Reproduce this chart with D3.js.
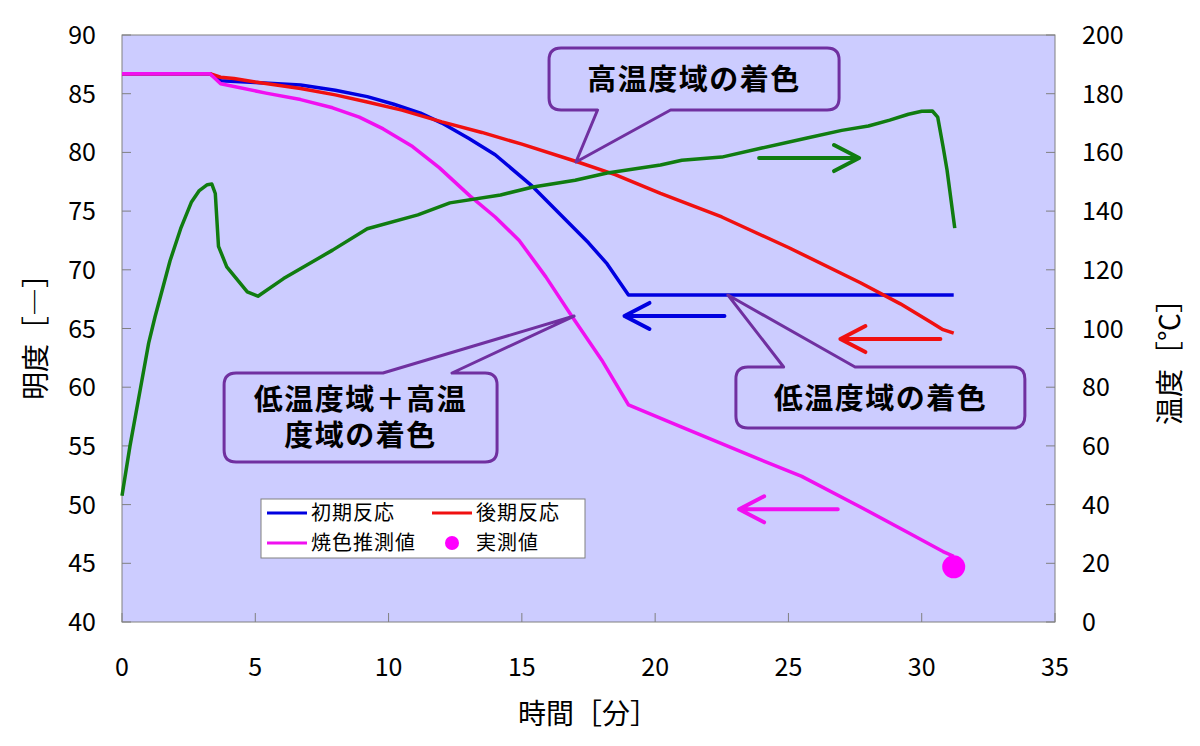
<!DOCTYPE html>
<html>
<head>
<meta charset="utf-8">
<script src="https://cdn.jsdelivr.net/npm/d3@7"></script>
<style>
  body { margin: 0; background: #fff; }
  svg text { font-family: "Noto Sans CJK JP", "Noto Sans", sans-serif; fill: #000; }
</style>
</head>
<body>
<div id="chart"></div>
<script>
// time axis (min) and the four curves
var blueT = [0, 3.3, 3.7, 5, 6.7, 8, 9.2, 10.2, 11.2, 12, 13, 14, 15.4, 16.8, 17.5, 18.2, 19.0, 31.2];
var blueL = [86.7, 86.7, 86.1, 85.95, 85.75, 85.3, 84.75, 84.1, 83.35, 82.5, 81.2, 79.8, 77.1, 73.9, 72.3, 70.5, 67.85, 67.85];

var redT = [0, 3.3, 3.7, 4.2, 5, 6.7, 8, 9.2, 10.5, 12, 13.5, 15, 17.07, 18.5, 20.2, 22.5, 25, 27.7, 29.2, 30.3, 30.8, 31.2];
var redL = [86.7, 86.7, 86.4, 86.3, 86.0, 85.45, 84.9, 84.3, 83.6, 82.6, 81.7, 80.7, 79.2, 78.1, 76.5, 74.5, 71.9, 68.9, 67.1, 65.6, 64.9, 64.6];

var pinkT = [0, 3.3, 3.7, 5.4, 6.7, 7.9, 8.9, 9.8, 10.9, 11.9, 13.05, 14, 14.9, 15.9, 16.8, 18, 19, 21, 23.65, 25.5, 27.7, 29.5, 30.8, 31.2];
var pinkL = [86.7, 86.7, 85.85, 85.05, 84.5, 83.8, 83.0, 82.0, 80.5, 78.7, 76.3, 74.5, 72.5, 69.4, 66.3, 62.3, 58.5, 56.6, 54.1, 52.4, 49.8, 47.6, 46.0, 45.6];

var measT = [31.2];
var measL = [44.7];

var tempT = [0, 0.3, 0.7, 1.0, 1.24, 1.8, 2.2, 2.6, 2.9, 3.2, 3.37, 3.5, 3.62, 3.93, 4.7, 5.1, 6.06, 7.9, 9.2, 11.1, 12.3, 14.2, 15.42, 17, 18.2, 20.2, 21, 22.5, 24, 25.7, 27, 28, 28.8, 29.5, 30, 30.4, 30.6, 30.8, 30.95, 31.24];
var tempC = [43, 60, 80, 95, 104, 123, 134, 143, 147, 149, 149.2, 146, 128, 121, 112.5, 111, 117, 126.7, 134, 138.7, 142.8, 145.5, 148.2, 150.5, 153, 155.7, 157.3, 158.4, 161.5, 164.9, 167.5, 169, 171, 173, 174, 174.1, 172, 162, 154, 134.2];

var xTicks = [0, 5, 10, 15, 20, 25, 30, 35];
var yLTicks = [40, 45, 50, 55, 60, 65, 70, 75, 80, 85, 90];
var yRTicks = [0, 20, 40, 60, 80, 100, 120, 140, 160, 180, 200];

// annotations in data units (time, brightness)
var arrows = [
  { t0: 23.9, t1: 27.65, L: 79.52, color: "#107C10" },
  { t0: 22.6, t1: 18.85, L: 66.07, color: "#0000E0" },
  { t0: 30.7, t1: 26.95, L: 64.1, color: "#F01010" },
  { t0: 26.85, t1: 23.15, L: 49.6, color: "#F010F0" }
];
var callouts = [
  { lines: ["高温度域の着色"], box: [16.02, 26.9, 88.89, 83.61], base: [17.84, 20.58], edge: "bottom", tip: [17.03, 79.18] },
  { lines: ["低温度域の着色"], box: [23.03, 33.87, 61.72, 56.52], base: [24.82, 27.5], edge: "top", tip: [22.73, 67.85] },
  { lines: ["低温度域＋高温", "度域の着色"], box: [3.83, 14.07, 61.21, 53.63], base: [9.79, 12.38], edge: "top", tip: [16.96, 66.06] }
];

var W = 1200, H = 746;
var plot = { left: 122, right: 1055, top: 35, bottom: 622 };

var svg = d3.select("#chart").append("svg")
    .attr("width", W)
    .attr("height", H);

var x = d3.scaleLinear().domain([0, 35]).range([plot.left, plot.right]);
var yL = d3.scaleLinear().domain([40, 90]).range([plot.bottom, plot.top]);
var yR = d3.scaleLinear().domain([0, 200]).range([plot.bottom, plot.top]);

// plot background
svg.append("rect")
    .attr("x", plot.left).attr("y", plot.top)
    .attr("width", plot.right - plot.left).attr("height", plot.bottom - plot.top)
    .attr("fill", "#CCCCFF")
    .attr("stroke", "#808080").attr("stroke-width", 1);

// ticks (inside)
var tickG = svg.append("g").attr("stroke", "#808080").attr("stroke-width", 1);
xTicks.forEach(function(t) {
    tickG.append("line").attr("x1", x(t)).attr("x2", x(t))
        .attr("y1", plot.bottom).attr("y2", plot.bottom - 9);
});
yLTicks.forEach(function(v) {
    tickG.append("line").attr("x1", plot.left).attr("x2", plot.left + 9)
        .attr("y1", yL(v)).attr("y2", yL(v));
});
yRTicks.forEach(function(v) {
    tickG.append("line").attr("x1", plot.right).attr("x2", plot.right - 9)
        .attr("y1", yR(v)).attr("y2", yR(v));
});

// tick labels
svg.append("g").selectAll("text").data(xTicks).enter().append("text")
    .attr("x", d => x(d)).attr("y", 676)
    .attr("text-anchor", "middle")
    .style("font-size", "25px")
    .text(d => d);
svg.append("g").selectAll("text").data(yLTicks).enter().append("text")
    .attr("x", 96).attr("y", d => yL(d) + 9)
    .attr("text-anchor", "end")
    .style("font-size", "25px")
    .text(d => d);
svg.append("g").selectAll("text").data(yRTicks).enter().append("text")
    .attr("x", 1082).attr("y", d => yR(d) + 9)
    .attr("text-anchor", "start")
    .style("font-size", "25px")
    .text(d => d);

// axis titles
svg.append("text")
    .attr("x", 588).attr("y", 724)
    .attr("text-anchor", "middle")
    .style("font-size", "28px")
    .text("時間［分］");
svg.append("text")
    .attr("transform", "translate(46, 330) rotate(-90)")
    .attr("text-anchor", "middle")
    .style("font-size", "28px")
    .text("明度［―］");
svg.append("text")
    .attr("transform", "translate(1180, 355) rotate(-90)")
    .attr("text-anchor", "middle")
    .style("font-size", "28px")
    .text("温度［℃］");

// series
function pairs(ts, vs) { return ts.map((t, i) => [t, vs[i]]); }
var lineL = d3.line().x(d => x(d[0])).y(d => yL(d[1]));
var lineR = d3.line().x(d => x(d[0])).y(d => yR(d[1]));

var series = [
  { data: pairs(blueT, blueL), color: "#0000E0" },
  { data: pairs(redT, redL), color: "#F01010" },
  { data: pairs(pinkT, pinkL), color: "#F010F0" }
];
series.forEach(function(s) {
    svg.append("path")
        .attr("d", lineL(s.data))
        .attr("fill", "none")
        .attr("stroke", s.color)
        .attr("stroke-width", 3.5)
        .attr("stroke-linejoin", "round");
});

svg.selectAll("circle.meas").data(pairs(measT, measL)).enter().append("circle")
    .attr("class", "meas")
    .attr("cx", d => x(d[0])).attr("cy", d => yL(d[1]))
    .attr("r", 11.5)
    .attr("fill", "#FF00FF");

svg.append("path")
    .attr("d", lineR(pairs(tempT, tempC)))
    .attr("fill", "none")
    .attr("stroke", "#107C10")
    .attr("stroke-width", 3.5)
    .attr("stroke-linejoin", "round");

// arrows
arrows.forEach(function(a) {
    var x0 = x(a.t0), x1 = x(a.t1), yy = yL(a.L);
    var dir = x1 > x0 ? -1 : 1;
    svg.append("path")
        .attr("d", `M${x0},${yy}L${x1},${yy}M${x1 + dir * 25},${yy - 13}L${x1},${yy}L${x1 + dir * 25},${yy + 13}`)
        .attr("fill", "none")
        .attr("stroke", a.color)
        .attr("stroke-width", 4)
        .attr("stroke-linecap", "round")
        .attr("stroke-linejoin", "round");
});

// callouts: rounded box with a wedge pointer
callouts.forEach(function(c) {
    var x0 = x(c.box[0]), x1 = x(c.box[1]), y0 = yL(c.box[2]), y1 = yL(c.box[3]);
    var b0 = x(c.base[0]), b1 = x(c.base[1]);
    var tx = x(c.tip[0]), ty = yL(c.tip[1]);
    var r = 12, p;
    if (c.edge === "top") {
        p = `M${x0 + r},${y0}L${b0},${y0}L${tx},${ty}L${b1},${y0}L${x1 - r},${y0}` +
            `Q${x1},${y0} ${x1},${y0 + r}L${x1},${y1 - r}Q${x1},${y1} ${x1 - r},${y1}` +
            `L${x0 + r},${y1}Q${x0},${y1} ${x0},${y1 - r}L${x0},${y0 + r}Q${x0},${y0} ${x0 + r},${y0}Z`;
    } else {
        p = `M${x0 + r},${y0}L${x1 - r},${y0}Q${x1},${y0} ${x1},${y0 + r}L${x1},${y1 - r}` +
            `Q${x1},${y1} ${x1 - r},${y1}L${b1},${y1}L${tx},${ty}L${b0},${y1}L${x0 + r},${y1}` +
            `Q${x0},${y1} ${x0},${y1 - r}L${x0},${y0 + r}Q${x0},${y0} ${x0 + r},${y0}Z`;
    }
    svg.append("path")
        .attr("d", p)
        .attr("fill", "#CCCCFF")
        .attr("stroke", "#7030A0")
        .attr("stroke-width", 3)
        .attr("stroke-linejoin", "round");
    var cx = (x0 + x1) / 2, cy = (y0 + y1) / 2;
    var n = c.lines.length, lh = 36;
    c.lines.forEach(function(s, i) {
        svg.append("text")
            .attr("x", cx)
            .attr("y", cy + (i - (n - 1) / 2) * lh + 11)
            .attr("text-anchor", "middle")
            .style("font-size", "29px")
            .style("font-weight", "bold")
            .style("letter-spacing", "1.5px")
            .text(s);
    });
});

// legend
var legend = svg.append("g");
legend.append("rect")
    .attr("x", 261).attr("y", 499).attr("width", 324).attr("height", 59)
    .attr("fill", "#fff").attr("stroke", "#808080").attr("stroke-width", 1);
var legItems = [
  { label: "初期反応", color: "#0000E0", type: "line", x: 267, y: 513 },
  { label: "後期反応", color: "#F01010", type: "line", x: 432, y: 513 },
  { label: "焼色推測値", color: "#F010F0", type: "line", x: 267, y: 543 },
  { label: "実測値", color: "#FF00FF", type: "dot", x: 432, y: 543 }
];
legItems.forEach(function(d) {
    if (d.type === "line") {
        legend.append("line")
            .attr("x1", d.x).attr("x2", d.x + 40)
            .attr("y1", d.y).attr("y2", d.y)
            .attr("stroke", d.color).attr("stroke-width", 3);
    } else {
        legend.append("circle")
            .attr("cx", d.x + 20).attr("cy", d.y).attr("r", 7)
            .attr("fill", d.color);
    }
    legend.append("text")
        .attr("x", d.x + 44).attr("y", d.y + 7)
        .style("font-size", "20px")
        .style("letter-spacing", "1px")
        .text(d.label);
});
</script>
</body>
</html>
